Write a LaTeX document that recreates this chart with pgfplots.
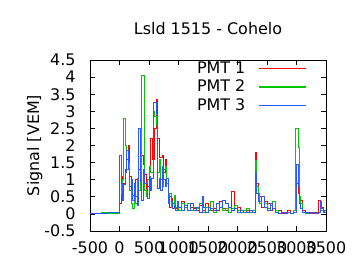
\documentclass[border=0pt]{standalone}
\usepackage{pgfplots}
\pgfplotsset{compat=1.18}
\usepackage{fontspec}
\setmainfont{DejaVu Sans}
\definecolor{gpred}{RGB}{255,0,0}
\definecolor{gpgreen}{RGB}{0,200,0}
\definecolor{gpblue}{RGB}{40,90,255}
\begin{document}
\fontsize{16}{19}\selectfont
\begin{tikzpicture}
\useasboundingbox (-90bp,-39bp) rectangle (270bp,231bp);
\begin{axis}[
  at={(0,0)}, anchor=south west,
  scale only axis, width=236bp, height=171bp,
  xmin=-500, xmax=3500, ymin=-0.5, ymax=4.5,
  xtick={-500,0,...,3500}, ytick={-0.5,0,...,4.5},
  tick align=inside, major tick length=5bp,
  minor tick num=0,
  /pgf/number format/assume math mode=true,
  /pgf/number format/set thousands separator={},
  scaled ticks=false,
  tick label style={font=\fontsize{16}{19}\selectfont},
  yticklabel style={xshift=-9bp},
  xticklabel style={yshift=-5bp},
  title={Lsld 1515 - Cohelo},
  title style={font=\fontsize{16}{19}\selectfont, yshift=14bp},
  ylabel={Signal [VEM]},
  ylabel style={font=\fontsize{16}{19}\selectfont, yshift=-9bp},
  axis line style={line width=0.9bp},
  every tick/.style={black, line width=0.8bp},
  legend plot pos=right,
  legend cell align=right,
  legend style={draw=none, fill=none, at={(1,1)}, anchor=north east,
    xshift=-16bp, yshift=2.5bp, font=\fontsize{16}{19}\selectfont,
    row sep=0.3bp,
    /tikz/every odd column/.append style={column sep=11bp}},
  legend image code/.code={\draw[#1, line width=1.5bp] (0bp,0bp) -- (47bp,0bp);},
]
\addplot[const plot, gpred, line width=0.9bp] coordinates {
(-500,0.01) (0,0.3) (25,1.1) (50,0.7) (75,0.9) (100,1.3) (125,1.6) (150,2.0)
(175,1.1) (200,0.6) (225,0.55) (250,0.3) (275,1.0) (300,0.65) (325,1.3)
(350,0.9) (375,1.7) (400,1.45) (425,1.15) (450,0.7) (475,0.8) (500,1.3)
(525,2.2) (560,1.6) (600,2.5) (625,3.35) (650,2.2) (675,1.65) (700,1.65)
(725,1.7) (750,1.2) (775,1.6) (800,0.9) (825,0.6) (850,0.2) (875,0.45)
(900,0.3) (925,0.45) (950,0.15) (975,0.3) (1000,0.2) (1050,0.35) (1100,0.25)
(1150,0.1) (1200,0.2) (1250,0.15) (1300,0.1) (1350,0.25) (1400,0.1)
(1450,0.3) (1500,0.2) (1550,0.1) (1600,0.15) (1650,0.1) (1700,0.35)
(1750,0.15) (1800,0.1) (1850,0.05) (1900,0.65) (1950,0.15) (2000,0.2)
(2050,0.1) (2100,0.05) (2150,0.1) (2200,0.05) (2250,0.1) (2300,1.8)
(2325,0.9) (2350,0.6) (2375,0.5) (2400,0.2) (2450,0.35) (2500,0.3)
(2550,0.1) (2600,0.15) (2650,0.05) (2700,0.1) (2750,0.02) (2800,0.05)
(2850,0.1) (2900,0.02) (2950,0.1) (3000,0.9) (3025,0.6) (3050,0.3)
(3075,0.4) (3100,0.1) (3150,0.02) (3200,0.05) (3250,0.02) (3300,0.05)
(3350,0.0) (3375,0.4) (3400,0.2) (3450,0.05) (3500,0.1)
};
\addlegendentry{PMT 1}
\addplot[const plot, gpgreen, line width=0.9bp] coordinates {
(-500,0.0) (-300,0.03) (-200,0.0) (0,1.7) (25,0.6) (50,1.0) (75,2.8)
(100,2.0) (125,1.3) (150,1.5) (175,0.7) (200,0.3) (225,0.15) (250,0.5)
(275,0.3) (300,1.05) (325,0.7) (350,1.0) (375,4.05) (425,0.7) (450,0.5)
(475,1.0) (500,1.4) (525,1.2) (575,3.0) (600,2.85) (625,2.6) (650,1.2)
(675,1.6) (700,1.0) (725,0.8) (750,1.3) (775,1.4) (800,0.9) (825,0.4)
(850,0.6) (875,0.2) (900,0.15) (925,0.55) (950,0.2) (975,0.35) (1000,0.1)
(1050,0.3) (1100,0.2) (1150,0.3) (1200,0.1) (1250,0.2) (1300,0.15)
(1350,0.3) (1400,0.05) (1450,0.2) (1500,0.1) (1550,0.35) (1600,0.05)
(1650,0.3) (1700,0.2) (1750,0.1) (1800,0.15) (1850,0.05) (1900,0.15)
(1950,0.25) (2000,0.1) (2050,0.05) (2100,0.1) (2150,0.15) (2200,0.05)
(2250,0.1) (2300,1.55) (2325,0.8) (2350,0.6) (2375,0.3) (2400,0.5)
(2450,0.3) (2500,0.15) (2550,0.25) (2600,0.35) (2650,0.1) (2700,0.0)
(2750,0.05) (2800,0.0) (2850,0.05) (2900,0.0) (2950,0.1) (2975,2.5)
(3025,1.95) (3050,0.5) (3075,0.3) (3100,0.05) (3150,0.02) (3200,0.0)
(3250,0.05) (3300,0.02) (3350,0.05) (3400,0.1) (3450,0.05) (3500,0.05)
};
\addlegendentry{PMT 2}
\addplot[const plot, gpblue, line width=0.9bp] coordinates {
(-500,0.02) (-300,0.0) (-200,0.03) (0,1.7) (25,0.9) (50,0.4) (75,0.85)
(100,1.2) (125,1.85) (150,1.3) (175,0.8) (200,1.0) (225,0.4) (250,0.9)
(275,0.5) (300,0.25) (325,2.5) (350,0.95) (375,0.4) (400,1.3) (425,0.9)
(450,0.9) (475,0.45) (500,1.1) (525,0.7) (550,1.05) (575,3.25) (625,2.9)
(650,0.75) (675,1.05) (700,0.7) (725,1.4) (750,1.0) (775,0.8) (800,1.05)
(825,0.3) (850,0.5) (875,0.35) (900,0.15) (925,0.25) (950,0.1) (975,0.35)
(1000,0.2) (1050,0.1) (1100,0.25) (1150,0.1) (1200,0.3) (1250,0.1)
(1300,0.2) (1350,0.05) (1400,0.5) (1425,0.2) (1450,0.05) (1500,0.2)
(1550,0.15) (1600,0.1) (1650,0.3) (1700,0.2) (1750,0.4) (1800,0.3)
(1850,0.2) (1900,0.1) (1950,0.15) (2000,0.05) (2050,0.1) (2100,0.05)
(2150,0.05) (2200,0.1) (2250,0.05) (2300,1.2) (2325,0.6) (2350,0.35)
(2400,0.5) (2450,0.2) (2500,0.1) (2550,0.3) (2600,0.15) (2650,0.05)
(2700,0.02) (2750,0.05) (2800,0.02) (2850,0.05) (2900,0.0) (2950,0.05)
(3000,1.45) (3025,0.8) (3050,0.3) (3075,0.15) (3100,0.05) (3150,0.05)
(3200,0.02) (3250,0.05) (3300,0.02) (3350,0.05) (3400,0.35) (3425,0.15)
(3450,0.05) (3475,0.1) (3500,0.1)
};
\addlegendentry{PMT 3}
\end{axis}
\end{tikzpicture}
\end{document}
